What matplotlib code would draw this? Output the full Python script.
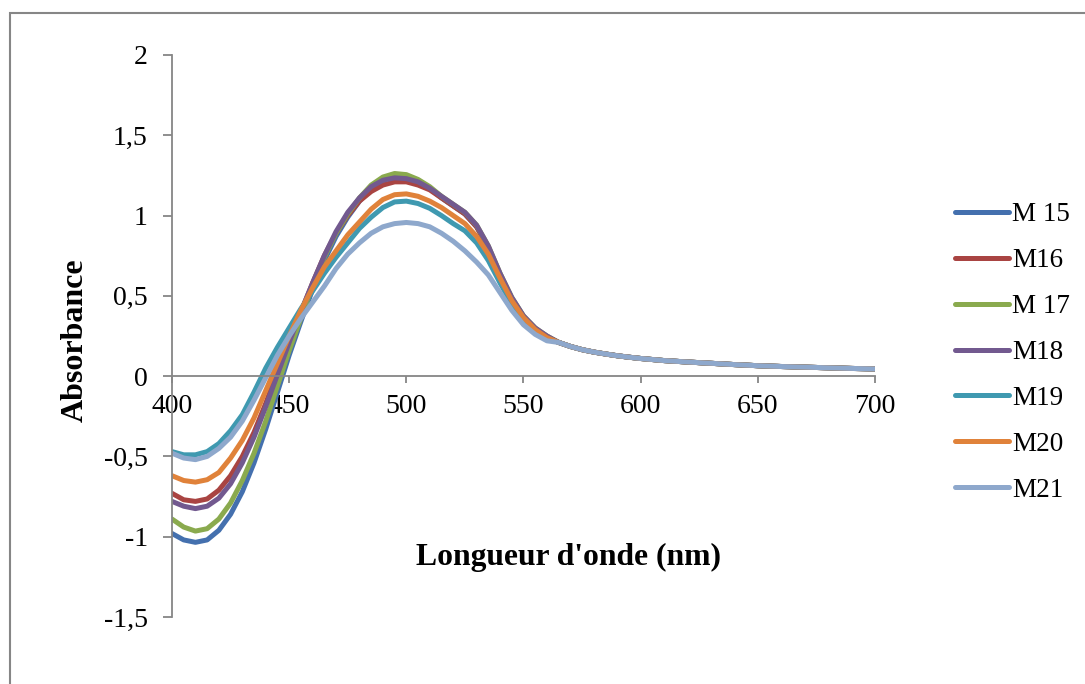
import matplotlib
matplotlib.use("Agg")
import matplotlib.pyplot as plt
from matplotlib.patches import Rectangle
from matplotlib.ticker import FuncFormatter

plt.rcParams['font.family'] = ['Liberation Serif', 'DejaVu Serif']

# longueurs d'onde (nm) : pas de 5 nm jusqu'à 560, puis queue commune
lambda_tete = list(range(400, 565, 5))
lambda_queue = [565, 570, 575, 580, 585, 590, 595, 600, 610, 620, 630,
                640, 650, 660, 670, 680, 690, 700]

# au-delà de 560 nm les spectres se superposent
queue = [0.21, 0.185, 0.165, 0.15, 0.138, 0.127, 0.118, 0.11, 0.097, 0.088,
         0.080, 0.072, 0.065, 0.060, 0.056, 0.052, 0.048, 0.045]

m15 = [-0.98, -1.02, -1.035, -1.02, -0.96, -0.86, -0.72, -0.54, -0.33, -0.10,
       0.13, 0.34, 0.54, 0.72, 0.87, 0.99, 1.09, 1.17, 1.22, 1.25, 1.245,
       1.22, 1.17, 1.11, 1.06, 1.01, 0.93, 0.80, 0.63, 0.48, 0.37, 0.295, 0.245]
m16 = [-0.73, -0.77, -0.78, -0.765, -0.71, -0.62, -0.50, -0.35, -0.17, 0.03,
       0.22, 0.40, 0.58, 0.75, 0.89, 1.00, 1.09, 1.15, 1.19, 1.21, 1.21,
       1.19, 1.16, 1.11, 1.06, 1.01, 0.93, 0.80, 0.63, 0.48, 0.37, 0.295, 0.245]
m17 = [-0.89, -0.94, -0.965, -0.95, -0.89, -0.79, -0.65, -0.48, -0.28, -0.06,
       0.16, 0.36, 0.56, 0.74, 0.89, 1.01, 1.11, 1.19, 1.24, 1.262, 1.255,
       1.225, 1.18, 1.12, 1.07, 1.02, 0.94, 0.81, 0.64, 0.49, 0.375, 0.30, 0.25]
m18 = [-0.78, -0.81, -0.825, -0.81, -0.76, -0.67, -0.54, -0.38, -0.19, 0.01,
       0.21, 0.40, 0.58, 0.75, 0.90, 1.02, 1.11, 1.18, 1.22, 1.235, 1.23,
       1.21, 1.17, 1.12, 1.07, 1.02, 0.94, 0.81, 0.64, 0.49, 0.375, 0.30, 0.25]
m19 = [-0.47, -0.49, -0.49, -0.47, -0.42, -0.34, -0.24, -0.10, 0.05, 0.18,
       0.30, 0.42, 0.53, 0.64, 0.74, 0.83, 0.92, 0.99, 1.05, 1.085, 1.09,
       1.075, 1.045, 1.00, 0.95, 0.905, 0.83, 0.72, 0.58, 0.45, 0.35, 0.28, 0.235]
m20 = [-0.62, -0.65, -0.66, -0.645, -0.60, -0.51, -0.40, -0.26, -0.09, 0.08,
       0.25, 0.41, 0.55, 0.68, 0.78, 0.88, 0.96, 1.04, 1.10, 1.13, 1.135,
       1.12, 1.09, 1.05, 1.00, 0.95, 0.87, 0.76, 0.61, 0.47, 0.365, 0.29, 0.24]
m21 = [-0.48, -0.51, -0.52, -0.50, -0.45, -0.38, -0.28, -0.15, -0.01, 0.13,
       0.25, 0.36, 0.46, 0.56, 0.67, 0.76, 0.83, 0.89, 0.93, 0.95, 0.957,
       0.95, 0.93, 0.89, 0.84, 0.78, 0.71, 0.63, 0.52, 0.41, 0.32, 0.26, 0.22]

noms = ['M 15', 'M16', 'M 17', 'M18', 'M19', 'M20', 'M21']
series = [m15, m16, m17, m18, m19, m20, m21]
couleurs = ['#4470ae', '#a94442', '#8aaa4e', '#72598f', '#3f99b0',
            '#e0823a', '#8ea8cc']

lam = lambda_tete + lambda_queue

fig = plt.figure(figsize=(10.85, 6.84), dpi=100)
ax = fig.add_axes([172/1085, 1 - 617/684, (875 - 172)/1085, (617 - 55)/684])

for nom, y, c in zip(noms, series, couleurs):
    ax.plot(lam, y + queue, color=c, lw=3.6, label=nom,
            solid_capstyle='round', solid_joinstyle='round')

ax.set_xlim(400, 700)
ax.set_ylim(-1.5, 2)
ax.set_xticks(range(400, 701, 50))
ax.set_yticks([-1.5, -1, -0.5, 0, 0.5, 1, 1.5, 2])
ax.yaxis.set_major_formatter(FuncFormatter(
    lambda v, p: ('%g' % v).replace('.', ',')))

gris = '#868686'
ax.spines['top'].set_visible(False)
ax.spines['right'].set_visible(False)
ax.spines['bottom'].set_position(('data', 0))
for s in ('left', 'bottom'):
    ax.spines[s].set_color(gris)
    ax.spines[s].set_linewidth(1.3)
ax.tick_params(axis='y', direction='out', length=6.5, width=1.3, color=gris,
               pad=11, labelsize=20)
ax.tick_params(axis='x', direction='out', length=5, width=1.3, color=gris,
               pad=8, labelsize=20)

fig.text(568/1085, 1 - 557/684, "Longueur d'onde (nm)", ha='center',
         va='center', fontsize=22.8, fontweight='bold')
fig.text(75/1085, 1 - 340/684, "Absorbance", ha='center', va='center',
         rotation=90, fontsize=23, fontweight='bold')

fig.legend(loc='center left', bbox_to_anchor=(955/1085, 1 - 352.5/684),
           frameon=False, fontsize=19.5, handlelength=2.0, handletextpad=0.12,
           labelspacing=0.77, borderpad=0, borderaxespad=0)

# cadre du graphique
fig.patches.append(Rectangle((10/1085, -0.1), 1.2, 1 - 13/684 + 0.1,
                             transform=fig.transFigure, fill=False,
                             edgecolor=gris, lw=1.5))

fig.savefig('out.png', dpi=100)
